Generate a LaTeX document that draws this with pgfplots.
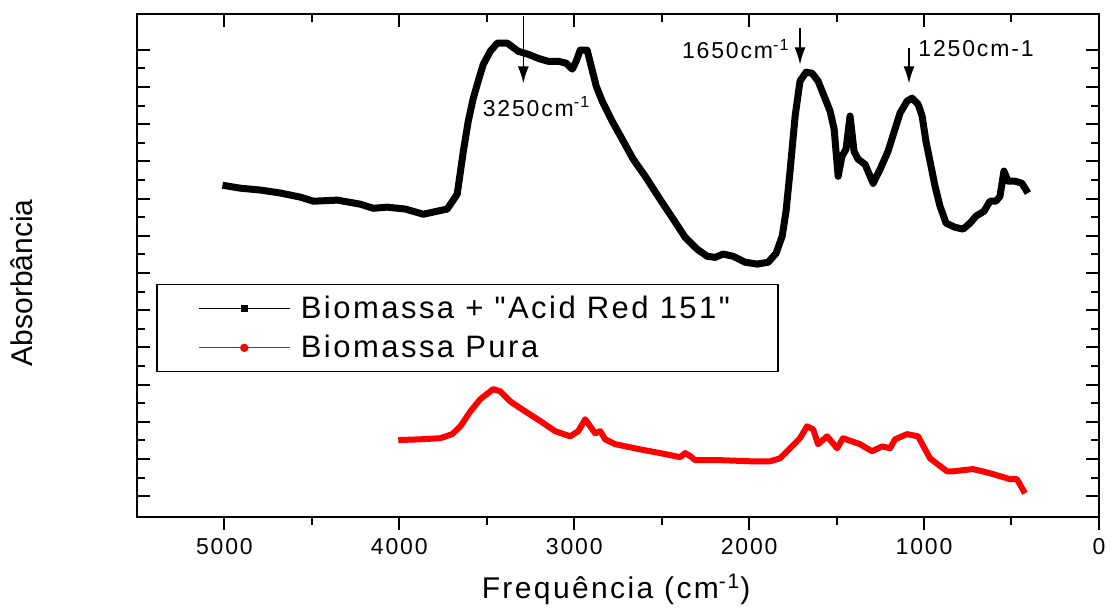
\documentclass[border=0pt]{standalone}
\usepackage{fontspec}
\setmainfont{Liberation Sans}
\newfontfamily\lsfont{Liberation Sans}[LetterSpace=8]
\usepackage{pgfplots}
\pgfplotsset{compat=1.18}
\usetikzlibrary{arrows.meta}

\pgfplotsset{
  frame/.style={
    scale only axis, width=481pt, height=251.5pt,
    xmin=0, xmax=5500, ymin=-0.55, ymax=12.97,
    x dir=reverse,
    axis line style={line width=1pt},
    every tick/.style={black, line width=1pt},
    minor x tick num=1, minor y tick num=1,
    major tick length=6.5pt, minor tick length=4pt,
    /pgf/number format/assume math mode=true,
    /pgf/number format/1000 sep={},
  }
}

\begin{document}
\begin{tikzpicture}
% bottom ticks pointing out, with labels
\begin{axis}[frame,
  xtick={0,1000,...,5000}, xtick pos=bottom, tick align=outside,
  ytick=\empty,
  xticklabel style={font=\lsfont\fontsize{11.5}{13}\selectfont, yshift=-1pt},
]
\end{axis}

% top and side ticks pointing in, data, legend, notes
\begin{axis}[frame,
  xtick={0,1000,...,5000}, xtick pos=top, tick align=inside,
  xticklabels={}, ytick={0,1,...,12}, yticklabels={},
  clip=false,
  legend style={at={(rel axis cs:0.0198,0.463)}, anchor=north west,
    draw=black, line width=0.8pt,
    font=\lsfont\fontsize{15.5}{17}\selectfont,
    inner xsep=1pt, inner ysep=3.5pt, row sep=3pt},
  legend cell align=left,
]
\addplot[black, line width=3.5pt, line join=round,
  legend image code/.code={
    \path[draw=none, fill=none] (-20pt,0) -- (49pt,0);
    \draw[black, line width=0.5pt] (0pt,0) -- (45.5pt,0);
    \path[draw=none, fill=black] (22.75pt,0) +(-1.8pt,-1.8pt) rectangle +(1.8pt,1.8pt);}]
coordinates {
(5011,8.36)(4909,8.28)(4794,8.23)(4680,8.15)(4566,8.04)(4491,7.93)(4354,7.96)(4223,7.85)
(4149,7.74)(4069,7.77)(3966,7.72)(3863,7.58)(3726,7.72)(3669,8.12)(3634,9.27)(3606,10.08)
(3577,10.70)(3549,11.16)(3520,11.61)(3480,11.96)(3440,12.18)(3383,12.18)(3320,11.96)
(3263,11.88)(3206,11.77)(3149,11.69)(3091,11.69)(3046,11.64)(3011,11.48)(2989,11.69)
(2966,11.99)(2926,11.99)(2903,11.56)(2874,11.02)(2840,10.62)(2783,10.08)(2726,9.60)
(2663,9.06)(2594,8.60)(2509,7.98)(2434,7.45)(2366,6.96)(2297,6.64)(2240,6.45)(2194,6.42)
(2149,6.51)(2091,6.45)(2023,6.29)(1954,6.24)(1891,6.29)(1846,6.53)(1811,6.99)(1789,7.66)
(1766,8.74)(1737,10.22)(1709,11.16)(1674,11.40)(1640,11.37)(1606,11.16)(1571,10.75)
(1537,10.35)(1514,9.87)(1491,8.60)(1469,9.14)(1446,9.33)(1423,10.22)(1400,9.27)(1377,9.06)
(1337,8.92)(1291,8.41)(1251,8.79)(1206,9.27)(1166,9.87)(1137,10.30)(1097,10.62)(1069,10.70)
(1034,10.54)(1011,10.22)(989,9.54)(966,9.01)(937,8.33)(909,7.80)(874,7.34)(823,7.23)
(777,7.18)(737,7.34)(703,7.53)(657,7.66)(623,7.93)(589,7.93)(566,8.06)(543,8.74)(520,8.47)
(480,8.47)(440,8.41)(406,8.15)
};
\addlegendentry{Biomassa + "Acid Red 151"\makebox[21pt]{}}

\addplot[red, line width=3pt, line join=round,
  legend image code/.code={
    \path[draw=none, fill=none] (-20pt,0) -- (49pt,0);
    \draw[red, line width=0.5pt] (0pt,0) -- (45.5pt,0);
    \path[draw=none, fill=red] (22.75pt,0) circle (2.1pt);}]
coordinates {
(4006,1.51)(3880,1.53)(3766,1.56)(3697,1.67)(3651,1.88)(3594,2.28)(3537,2.61)(3463,2.88)
(3423,2.82)(3366,2.55)(3280,2.28)(3194,2.02)(3109,1.75)(3023,1.61)(2977,1.75)(2937,2.07)
(2909,1.88)(2880,1.69)(2851,1.75)(2823,1.53)(2766,1.40)(2623,1.26)(2509,1.16)(2394,1.05)
(2366,1.16)(2337,1.08)(2309,0.97)(2166,0.97)(1994,0.94)(1880,0.94)(1823,1.02)(1766,1.29)
(1709,1.56)(1669,1.88)(1634,1.80)(1606,1.40)(1554,1.61)(1497,1.29)(1463,1.56)(1366,1.40)
(1297,1.21)(1240,1.34)(1194,1.29)(1166,1.53)(1097,1.67)(1034,1.61)(966,1.02)(869,0.67)
(834,0.67)(720,0.73)(623,0.62)(509,0.46)(469,0.46)(423,0.08)
};
\addlegendentry{Biomassa Pura}

% peak notes
\draw[-{Latex[length=8.5pt,width=5.5pt]}, line width=0.6pt] (axis cs:3291,12.90) -- (axis cs:3291,11.10);
\node[anchor=west, inner sep=0pt, font=\lsfont\fontsize{11.5}{13}\selectfont] at (axis cs:3525,10.48) {3250cm\textsuperscript{-1}};
\draw[-{Latex[length=8.5pt,width=5.5pt]}, line width=0.6pt] (axis cs:1709,12.58) -- (axis cs:1709,11.61);
\node[anchor=east, inner sep=0pt, font=\lsfont\fontsize{11.5}{13}\selectfont] at (axis cs:1766,12.02) {1650cm\textsuperscript{-1}};
\draw[-{Latex[length=8.5pt,width=5.5pt]}, line width=0.6pt] (axis cs:1086,12.04) -- (axis cs:1086,11.10);
\node[anchor=west, inner sep=0pt, font=\lsfont\fontsize{11.5}{13}\selectfont] at (axis cs:1034,12.02) {1250cm-1};

% axis titles
\node[rotate=90, font=\fontsize{15}{17}\selectfont] at (rel axis cs:-0.1195,0.465) {Absorbância};
\node[font=\lsfont\fontsize{15}{17}\selectfont] at (rel axis cs:0.498,-0.145) {Frequência (cm\textsuperscript{-1})};

% picture extent
\path (rel axis cs:-0.1424,-0.1889) rectangle (rel axis cs:1.0135,1.0239);
\end{axis}
\end{tikzpicture}
\end{document}
